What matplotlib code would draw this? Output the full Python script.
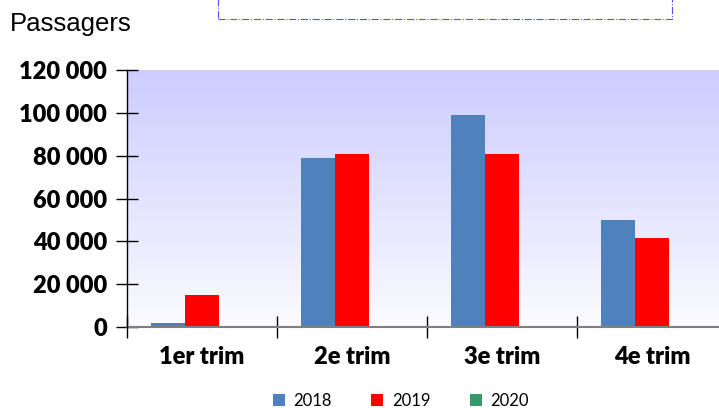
import matplotlib
matplotlib.use("Agg")
import matplotlib.pyplot as plt
import numpy as np
from matplotlib.patches import Rectangle
from matplotlib.ticker import FuncFormatter

categories = ["1er trim", "2e trim", "3e trim", "4e trim"]
series_names = ["2018", "2019", "2020"]
v2018 = [1900, 78800, 99000, 50000]
v2019 = [15000, 80800, 80800, 41500]
v2020 = [0, 0, 0, 0]
colors = ["#4F81BD", "#FF0000", "#339966"]
yticks = [0, 20000, 40000, 60000, 80000, 100000, 120000]

W, H = 719, 408
fig = plt.figure(figsize=(W / 100, H / 100), dpi=100)
ax = fig.add_axes([127 / W, 81 / H, 600 / W, 257 / H])

# gradient background
grad = np.linspace(0, 1, 256).reshape(-1, 1)
top = np.array([204, 204, 255]) / 255
bot = np.array([251, 251, 255]) / 255
img = bot + (top - bot) * grad[:, :, None] * np.ones((1, 1, 3))
ax.imshow(img, extent=[0, 1, 0, 1], transform=ax.transAxes, origin="lower",
          aspect="auto", zorder=0)

x = np.arange(len(categories))
w = 0.225
for i, (vals, name) in enumerate(zip([v2018, v2019, v2020], series_names)):
    ax.bar(x + (i - 1) * w, vals, w, color=colors[i], label=name, zorder=2)

ax.set_xlim(-0.5, 3.5)
ax.set_ylim(0, 120000)

ax.set_yticks(yticks)
ax.yaxis.set_major_formatter(FuncFormatter(lambda v, p: f"{int(v):,}".replace(",", " ")))
ax.tick_params(axis="y", direction="inout", length=15.8, width=1, pad=6.5,
               labelsize=17, color="black")
for lab in ax.get_yticklabels():
    lab.set_fontfamily("Lato")
    lab.set_fontweight("heavy")

ax.set_xticks([-0.5, 0.5, 1.5, 2.5])
ax.set_xticklabels([])
ax.set_xticks(x, minor=True)
ax.set_xticklabels(categories, minor=True)
ax.tick_params(axis="x", which="major", direction="inout", length=15.8, width=1, color="black")
ax.tick_params(axis="x", which="minor", length=0, pad=14, labelsize=17)
for lab in ax.get_xticklabels(minor=True):
    lab.set_fontfamily("Lato")
    lab.set_fontweight("heavy")

for s in ["top", "right"]:
    ax.spines[s].set_visible(False)
ax.spines["left"].set_color("black")
ax.spines["left"].set_linewidth(1)
ax.spines["bottom"].set_color("#7f7f7f")
ax.spines["bottom"].set_linewidth(1.5)
ax.spines["left"].set_zorder(3)

fig.text(10 / W, 1 - 31 / H, "Passagers", fontsize=18.5, family="Liberation Sans",
         va="baseline", ha="left")

# title placeholder box
fig.patches.append(Rectangle((218 / W, 1 - 19 / H), (672 - 218) / W, 30 / H,
                             transform=fig.transFigure, fill=False,
                             edgecolor="#5050FF", linewidth=0.8, linestyle="-."))

leg = fig.legend(loc="center", bbox_to_anchor=(401 / W, 1 - 401 / H), ncol=3,
                 frameon=False, handlelength=0.7, handleheight=0.7,
                 handletextpad=0.55, columnspacing=2.35,
                 prop={"family": "Lato", "size": 12})

fig.savefig("out.png", dpi=100)
